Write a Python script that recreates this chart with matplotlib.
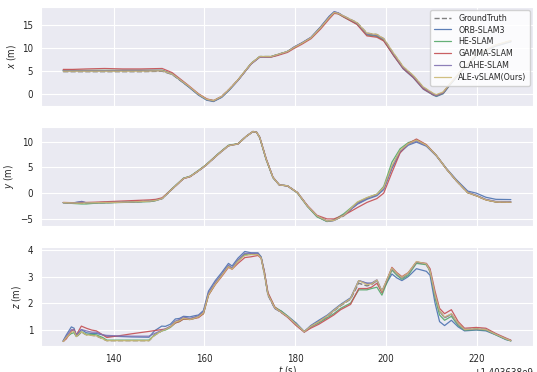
import matplotlib
matplotlib.use("Agg")
import matplotlib.pyplot as plt
import numpy as np
import seaborn as sns

# time stamps are seconds after T0
T0 = 1403638000.0

names = ["ORB-SLAM3", "HE-SLAM", "GAMMA-SLAM", "CLAHE-SLAM", "ALE-vSLAM(Ours)"]
colors = ["#4c72b0", "#55a868", "#c44e52", "#8172b2", "#ccb974"]

### x (m)
tx = [128.9, 131, 134, 138, 142, 146, 150.7, 152.9, 154.7, 156.5, 158.7, 160.5, 162, 163.8, 165.5,
      167.4, 170.3, 172.2, 174.7, 176, 178.3, 179.8, 181.5, 183.5, 185.6, 187.5, 188.6, 189.5, 190.7,
      193.6, 195.8, 198, 199.5, 201.7, 203.8, 206, 208.2, 210.4, 211.1, 212.6, 214, 217, 220, 224, 227.5]
x_gt = [4.8, 4.8, 4.8, 4.8, 4.8, 4.8, 4.9, 4.2, 2.9, 1.6, -0.15, -1.2, -1.5, -0.6, 1.0,
        3.0, 6.6, 8.1, 8.1, 8.5, 9.2, 10.1, 11.0, 12.2, 14.4, 16.6, 17.7, 17.5, 16.9,
        15.5, 13.2, 12.9, 12.0, 8.7, 5.8, 3.9, 1.4, 0.0, -0.3, 0.3, 2.0, 5.5, 8.5, 10.5, 11.5]
x_orb = [5.0, 5.0, 5.0, 5.0, 5.1, 5.1, 5.1, 4.3, 2.9, 1.5, -0.3, -1.4, -1.7, -0.8, 0.8,
         2.9, 6.5, 8.0, 8.0, 8.4, 9.2, 10.2, 11.1, 12.3, 14.6, 16.9, 17.9, 17.6, 16.8,
         15.3, 12.9, 12.6, 11.7, 8.3, 5.4, 3.5, 1.0, -0.3, -0.6, 0.0, 1.8, 5.3, 8.3, 10.3, 11.3]
x_he = [5.1, 5.1, 5.1, 5.1, 5.1, 5.1, 5.1, 4.3, 3.0, 1.6, -0.2, -1.3, -1.6, -0.7, 0.9,
        3.0, 6.6, 8.1, 8.1, 8.5, 9.2, 10.1, 11.0, 12.2, 14.4, 16.7, 17.7, 17.4, 16.7,
        15.2, 12.8, 12.5, 11.6, 8.4, 5.6, 3.7, 1.2, -0.2, -0.5, 0.1, 1.9, 5.4, 8.4, 10.4, 11.4]
x_gamma = [5.3, 5.3, 5.4, 5.5, 5.4, 5.4, 5.5, 4.6, 3.2, 1.8, 0.0, -1.1, -1.5, -0.6, 1.0,
           3.0, 6.5, 8.0, 8.0, 8.3, 9.0, 9.9, 10.8, 12.0, 14.1, 16.3, 17.5, 17.4, 16.7,
           15.1, 12.6, 12.3, 11.5, 8.3, 5.5, 3.6, 1.1, -0.2, -0.4, 0.2, 2.0, 5.5, 8.5, 10.5, 11.5]
x_clahe = [5.0, 5.0, 5.0, 5.0, 5.0, 5.0, 5.0, 4.3, 3.0, 1.6, -0.2, -1.3, -1.6, -0.7, 0.9,
           2.9, 6.5, 8.0, 8.1, 8.5, 9.2, 10.2, 11.1, 12.3, 14.5, 16.8, 17.8, 17.6, 16.9,
           15.4, 13.0, 12.7, 11.9, 8.6, 5.7, 3.8, 1.3, -0.1, -0.4, 0.2, 2.0, 5.5, 8.5, 10.5, 11.5]
x_ours = [4.9, 4.9, 4.9, 4.9, 4.9, 4.9, 5.0, 4.3, 3.0, 1.7, -0.1, -1.2, -1.5, -0.6, 1.0,
          3.0, 6.6, 8.1, 8.1, 8.5, 9.2, 10.1, 11.0, 12.2, 14.4, 16.6, 17.7, 17.5, 16.9,
          15.5, 13.2, 12.9, 12.0, 8.8, 5.9, 4.0, 1.5, 0.1, -0.2, 0.4, 2.1, 5.6, 8.6, 10.6, 11.6]

### y (m)
ty = [128.9, 131, 133, 134, 136, 140, 144, 148, 149.3, 150.7, 152.9, 155.4, 156.9, 158.5, 160.2,
      163.1, 165.3, 167.4, 169.2, 170.7, 171.5, 172.2, 173.6, 175.1, 176.5, 178.3, 180.5, 182.7,
      184.8, 187.0, 188.5, 190.7, 193.7, 195.8, 198.0, 199.5, 201.3, 203.1, 204.9, 206.7, 208.9,
      211.1, 213.3, 215.5, 218.0, 219.9, 222.0, 224.2, 227.5]
y_gt = [-1.85, -1.9, -1.95, -1.9, -1.85, -1.8, -1.7, -1.55, -1.4, -1.05, 0.8, 2.85, 3.25, 4.2, 5.3,
        7.6, 9.2, 9.55, 11.0, 11.95, 11.8, 10.8, 6.6, 3.05, 1.6, 1.42, 0.12, -2.5,
        -4.4, -5.4, -5.3, -4.4, -2.0, -1.0, -0.3, 1.0, 5.0, 8.2, 9.6, 10.3, 9.3,
        7.3, 4.7, 2.4, 0.1, -0.5, -1.3, -1.7, -1.75]
y_orb = [-1.85, -1.9, -1.6, -1.9, -1.85, -1.8, -1.7, -1.55, -1.4, -1.05, 0.8, 2.85, 3.25, 4.2, 5.3,
         7.6, 9.2, 9.55, 11.0, 11.95, 11.8, 10.8, 6.6, 3.05, 1.6, 1.42, 0.1, -2.5,
         -4.5, -5.5, -5.3, -4.2, -2.15, -1.2, -0.5, 0.7, 4.8, 7.9, 9.3, 9.9, 9.1,
         7.2, 4.8, 2.6, 0.4, 0.0, -0.8, -1.2, -1.25]
y_he = [-1.85, -2.0, -2.1, -2.1, -1.95, -1.85, -1.75, -1.65, -1.45, -1.0, 0.9, 2.9, 3.3, 4.3, 5.4,
        7.7, 9.3, 9.6, 11.0, 11.95, 11.8, 10.7, 6.5, 3.0, 1.6, 1.4, 0.0, -2.6,
        -4.6, -5.5, -5.2, -4.0, -1.8, -0.9, -0.2, 1.3, 6.0, 8.6, 9.8, 10.3, 9.3,
        7.3, 4.7, 2.4, 0.1, -0.5, -1.3, -1.7, -1.75]
y_gamma = [-1.8, -1.85, -1.8, -1.8, -1.75, -1.6, -1.45, -1.3, -1.2, -0.9, 0.8, 2.8, 3.2, 4.2, 5.3,
           7.6, 9.2, 9.55, 11.0, 11.95, 11.8, 10.8, 6.7, 3.1, 1.6, 1.4, 0.1, -2.4,
           -4.3, -5.0, -5.0, -4.3, -2.8, -1.8, -1.05, 0.0, 4.0, 7.8, 9.6, 10.5, 9.4,
           7.3, 4.7, 2.4, 0.1, -0.5, -1.3, -1.7, -1.75]
y_clahe = [-1.85, -1.9, -1.7, -1.85, -1.85, -1.8, -1.7, -1.55, -1.4, -1.05, 0.8, 2.85, 3.25, 4.2, 5.3,
           7.6, 9.2, 9.55, 11.0, 11.95, 11.8, 10.8, 6.6, 3.05, 1.6, 1.42, 0.1, -2.5,
           -4.4, -5.4, -5.3, -4.3, -2.0, -1.0, -0.3, 1.0, 5.0, 8.1, 9.5, 10.1, 9.2,
           7.3, 4.7, 2.4, 0.2, -0.4, -1.2, -1.6, -1.65]
y_ours = [-1.85, -1.9, -1.95, -1.9, -1.85, -1.8, -1.7, -1.55, -1.4, -1.05, 0.8, 2.85, 3.25, 4.2, 5.3,
          7.6, 9.2, 9.55, 11.0, 11.95, 11.8, 10.8, 6.6, 3.05, 1.6, 1.42, 0.12, -2.5,
          -4.4, -5.4, -5.3, -4.3, -1.7, -0.86, -0.2, 1.1, 5.3, 8.3, 9.6, 10.3, 9.3,
          7.3, 4.7, 2.4, 0.1, -0.5, -1.3, -1.7, -1.75]

### z (m)
tz = [128.9, 129.6, 130.7, 131.3, 131.8, 132.9, 134.0, 135.2, 136.2, 137.6, 138.5, 141, 144, 147.8,
      149.0, 150.6, 151.4, 152.5, 153.6, 154.5, 155.4, 156.8, 157.8, 158.7, 159.8, 160.9, 162.4,
      163.8, 165.3, 166.1, 167.4, 168.9, 170.3, 171.8, 172.5, 173.2, 174.0, 175.5, 176.9, 178.4,
      180.2, 182.0, 183.4, 185.2, 187.1, 188.5, 190.0, 192.2, 194.0, 195.8, 196.8, 198.0, 199.1,
      201.3, 202.4, 203.5, 204.9, 206.7, 208.9, 209.7, 210.8, 211.8, 212.9, 214.4, 215.9, 217.3,
      219.9, 222.0, 224.2, 226.4, 227.5]
z_gt = [0.55, 0.7, 0.9, 0.92, 0.72, 0.9, 0.8, 0.78, 0.76, 0.65, 0.58, 0.58, 0.58, 0.58,
        0.78, 0.95, 1.0, 1.12, 1.3, 1.35, 1.45, 1.4, 1.45, 1.5, 1.65, 2.35, 2.75,
        3.05, 3.4, 3.3, 3.6, 3.82, 3.85, 3.85, 3.7, 3.1, 2.3, 1.8, 1.65, 1.47,
        1.2, 0.92, 1.12, 1.3, 1.5, 1.7, 1.9, 2.15, 2.75, 2.65, 2.7, 2.85, 2.42,
        3.3, 3.1, 2.95, 3.12, 3.55, 3.46, 3.2, 2.3, 1.7, 1.45, 1.58, 1.22, 1.0,
        1.03, 1.0, 0.82, 0.65, 0.58]
z_orb = [0.58, 0.8, 1.1, 1.05, 0.75, 1.0, 0.88, 0.85, 0.85, 0.8, 0.75, 0.74, 0.72, 0.71,
         0.95, 1.13, 1.12, 1.2, 1.4, 1.42, 1.5, 1.48, 1.52, 1.55, 1.72, 2.45, 2.85,
         3.15, 3.5, 3.4, 3.7, 3.95, 3.9, 3.9, 3.75, 3.2, 2.35, 1.8, 1.7, 1.5,
         1.25, 0.92, 1.15, 1.35, 1.55, 1.75, 1.95, 2.2, 2.85, 2.75, 2.75, 2.85, 2.45,
         3.1, 2.95, 2.85, 3.0, 3.3, 3.2, 3.05, 2.0, 1.3, 1.15, 1.35, 1.1, 0.95,
         0.98, 0.95, 0.8, 0.62, 0.58]
z_he = [0.55, 0.72, 0.85, 0.88, 0.74, 0.92, 0.82, 0.82, 0.8, 0.7, 0.6, 0.6, 0.6, 0.6,
        0.8, 0.95, 0.98, 1.08, 1.25, 1.3, 1.4, 1.38, 1.42, 1.48, 1.6, 2.3, 2.72,
        3.05, 3.4, 3.3, 3.6, 3.85, 3.85, 3.85, 3.72, 3.15, 2.35, 1.85, 1.7, 1.5,
        1.2, 0.92, 1.1, 1.25, 1.45, 1.6, 1.8, 2.0, 2.5, 2.5, 2.55, 2.6, 2.3,
        3.25, 3.05, 2.9, 3.05, 3.5, 3.45, 3.2, 2.2, 1.55, 1.35, 1.5, 1.15, 0.98,
        1.0, 0.98, 0.8, 0.63, 0.57]
z_gamma = [0.55, 0.65, 0.95, 1.0, 0.8, 1.13, 1.05, 0.98, 0.95, 0.8, 0.7, 0.76, 0.84, 0.93,
           0.96, 1.0, 1.02, 1.1, 1.25, 1.3, 1.4, 1.38, 1.42, 1.45, 1.6, 2.3, 2.7,
           3.0, 3.35, 3.28, 3.5, 3.72, 3.75, 3.8, 3.7, 3.2, 2.4, 1.85, 1.65, 1.45,
           1.15, 0.9, 1.05, 1.2, 1.4, 1.55, 1.75, 1.95, 2.55, 2.55, 2.6, 2.75, 2.4,
           3.35, 3.15, 3.0, 3.15, 3.55, 3.5, 3.3, 2.45, 1.8, 1.6, 1.75, 1.3, 1.05,
           1.08, 1.05, 0.85, 0.68, 0.6]
z_clahe = [0.57, 0.75, 1.0, 0.98, 0.8, 1.0, 0.95, 0.9, 0.9, 0.8, 0.78, 0.76, 0.75, 0.75,
           0.85, 0.97, 1.02, 1.12, 1.32, 1.38, 1.47, 1.42, 1.47, 1.52, 1.67, 2.38, 2.78,
           3.08, 3.43, 3.33, 3.63, 3.88, 3.88, 3.87, 3.72, 3.12, 2.32, 1.8, 1.66, 1.48,
           1.2, 0.92, 1.12, 1.3, 1.52, 1.72, 1.92, 2.17, 2.85, 2.75, 2.75, 2.88, 2.45,
           3.3, 3.1, 2.95, 3.12, 3.55, 3.48, 3.22, 2.3, 1.7, 1.45, 1.58, 1.2, 1.0,
           1.02, 1.0, 0.82, 0.65, 0.58]
z_ours = [0.55, 0.7, 0.9, 0.93, 0.73, 0.92, 0.8, 0.78, 0.76, 0.65, 0.58, 0.58, 0.58, 0.58,
          0.78, 0.95, 1.0, 1.1, 1.28, 1.33, 1.43, 1.38, 1.43, 1.48, 1.63, 2.32, 2.72,
          3.03, 3.38, 3.28, 3.58, 3.8, 3.83, 3.83, 3.7, 3.12, 2.33, 1.82, 1.66, 1.48,
          1.2, 0.92, 1.12, 1.3, 1.52, 1.72, 1.92, 2.17, 2.85, 2.7, 2.72, 2.87, 2.45,
          3.32, 3.12, 2.97, 3.14, 3.57, 3.48, 3.22, 2.32, 1.72, 1.47, 1.6, 1.23, 1.0,
          1.03, 1.0, 0.82, 0.65, 0.58]

x_est = [x_orb, x_he, x_gamma, x_clahe, x_ours]
y_est = [y_orb, y_he, y_gamma, y_clahe, y_ours]
z_est = [z_orb, z_he, z_gamma, z_clahe, z_ours]

sns.set_style("darkgrid")
plt.rcParams['font.family'] = ['DejaVu Sans']
plt.rcParams['font.stretch'] = 'condensed'
plt.rcParams['font.size'] = 7

fig, axarr = plt.subplots(3, 1, sharex=True, figsize=(5.37, 3.72), dpi=100)
fig.subplots_adjust(left=0.076, right=0.993, top=0.981, bottom=0.07, hspace=0.212)

panels = [(tx, x_gt, x_est, "$x$ (m)"),
          (ty, y_gt, y_est, "$y$ (m)"),
          (tz, z_gt, z_est, "$z$ (m)")]

for ax, (tt, gt, est, lab) in zip(axarr, panels):
    tt = np.array(tt) + T0
    ax.plot(tt, gt, '--', color='gray', lw=1.0, label='GroundTruth')
    for vals, nm, c in zip(est, names, colors):
        ax.plot(tt, vals, '-', color=c, lw=0.9, alpha=0.9, label=nm)
    ax.set_ylabel(lab, fontsize=7, labelpad=3)
    ax.tick_params(labelsize=7, pad=2)

axarr[0].set_yticks([0, 5, 10, 15])
axarr[1].set_yticks([-5, 0, 5, 10])
axarr[2].set_yticks([1, 2, 3, 4])
axarr[2].set_xlabel("$t$ (s)", fontsize=7, labelpad=0)
axarr[2].xaxis.get_offset_text().set_fontsize(7)

leg = axarr[0].legend(loc='upper right', fontsize=6.3, frameon=True, facecolor='white',
                      framealpha=0.85, edgecolor='#cccccc', borderaxespad=0.35,
                      handlelength=2.0, labelspacing=0.33, borderpad=0.4)

plt.savefig('out.png', dpi=100)
